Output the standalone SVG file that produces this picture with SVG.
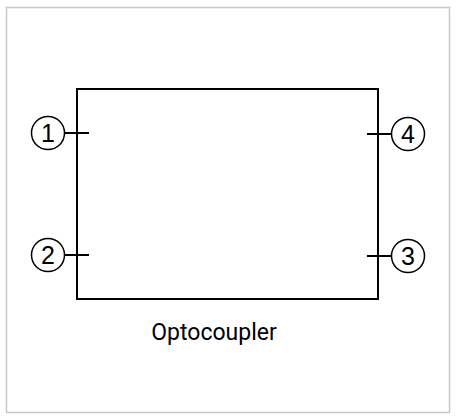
<svg xmlns="http://www.w3.org/2000/svg" width="457" height="420" viewBox="0 0 457 420">
<style>
.frame{fill:#fff;stroke:#c8c8c8;stroke-width:1.5}
.body{fill:none;stroke:#000;stroke-width:2}
.pin{fill:none;stroke:#000;stroke-width:1.5}
.lead{stroke:#000;stroke-width:2}
.num{font-family:"Liberation Sans",Arial,sans-serif;font-size:25px;text-anchor:middle;fill:#000}
.label{font-family:Roboto,"Liberation Sans",sans-serif;font-size:23px;text-anchor:middle;fill:#000}
</style>
<rect x="0" y="0" width="457" height="420" fill="#fff"/>
<rect class="frame" x="6.5" y="7.5" width="443" height="405"/>
<g id="optocoupler">
<rect class="body" x="77" y="89" width="301" height="210"/>
<text class="label" x="214" y="340">Optocoupler</text>
</g>
<g id="connectors">
<line class="lead" x1="64" y1="133" x2="89" y2="133"/>
<line class="lead" x1="64" y1="255" x2="89" y2="255"/>
<line class="lead" x1="367" y1="134" x2="392" y2="134"/>
<line class="lead" x1="367" y1="256" x2="392" y2="256"/>
</g>
<g id="pin1"><circle class="pin" cx="48" cy="133" r="16.5"/><text class="num" x="48" y="142">1</text></g>
<g id="pin2"><circle class="pin" cx="48" cy="255" r="16.5"/><text class="num" x="48" y="264">2</text></g>
<g id="pin4"><circle class="pin" cx="408" cy="134" r="16.5"/><text class="num" x="408" y="143">4</text></g>
<g id="pin3"><circle class="pin" cx="408" cy="256" r="16.5"/><text class="num" x="408" y="265">3</text></g>
</svg>
